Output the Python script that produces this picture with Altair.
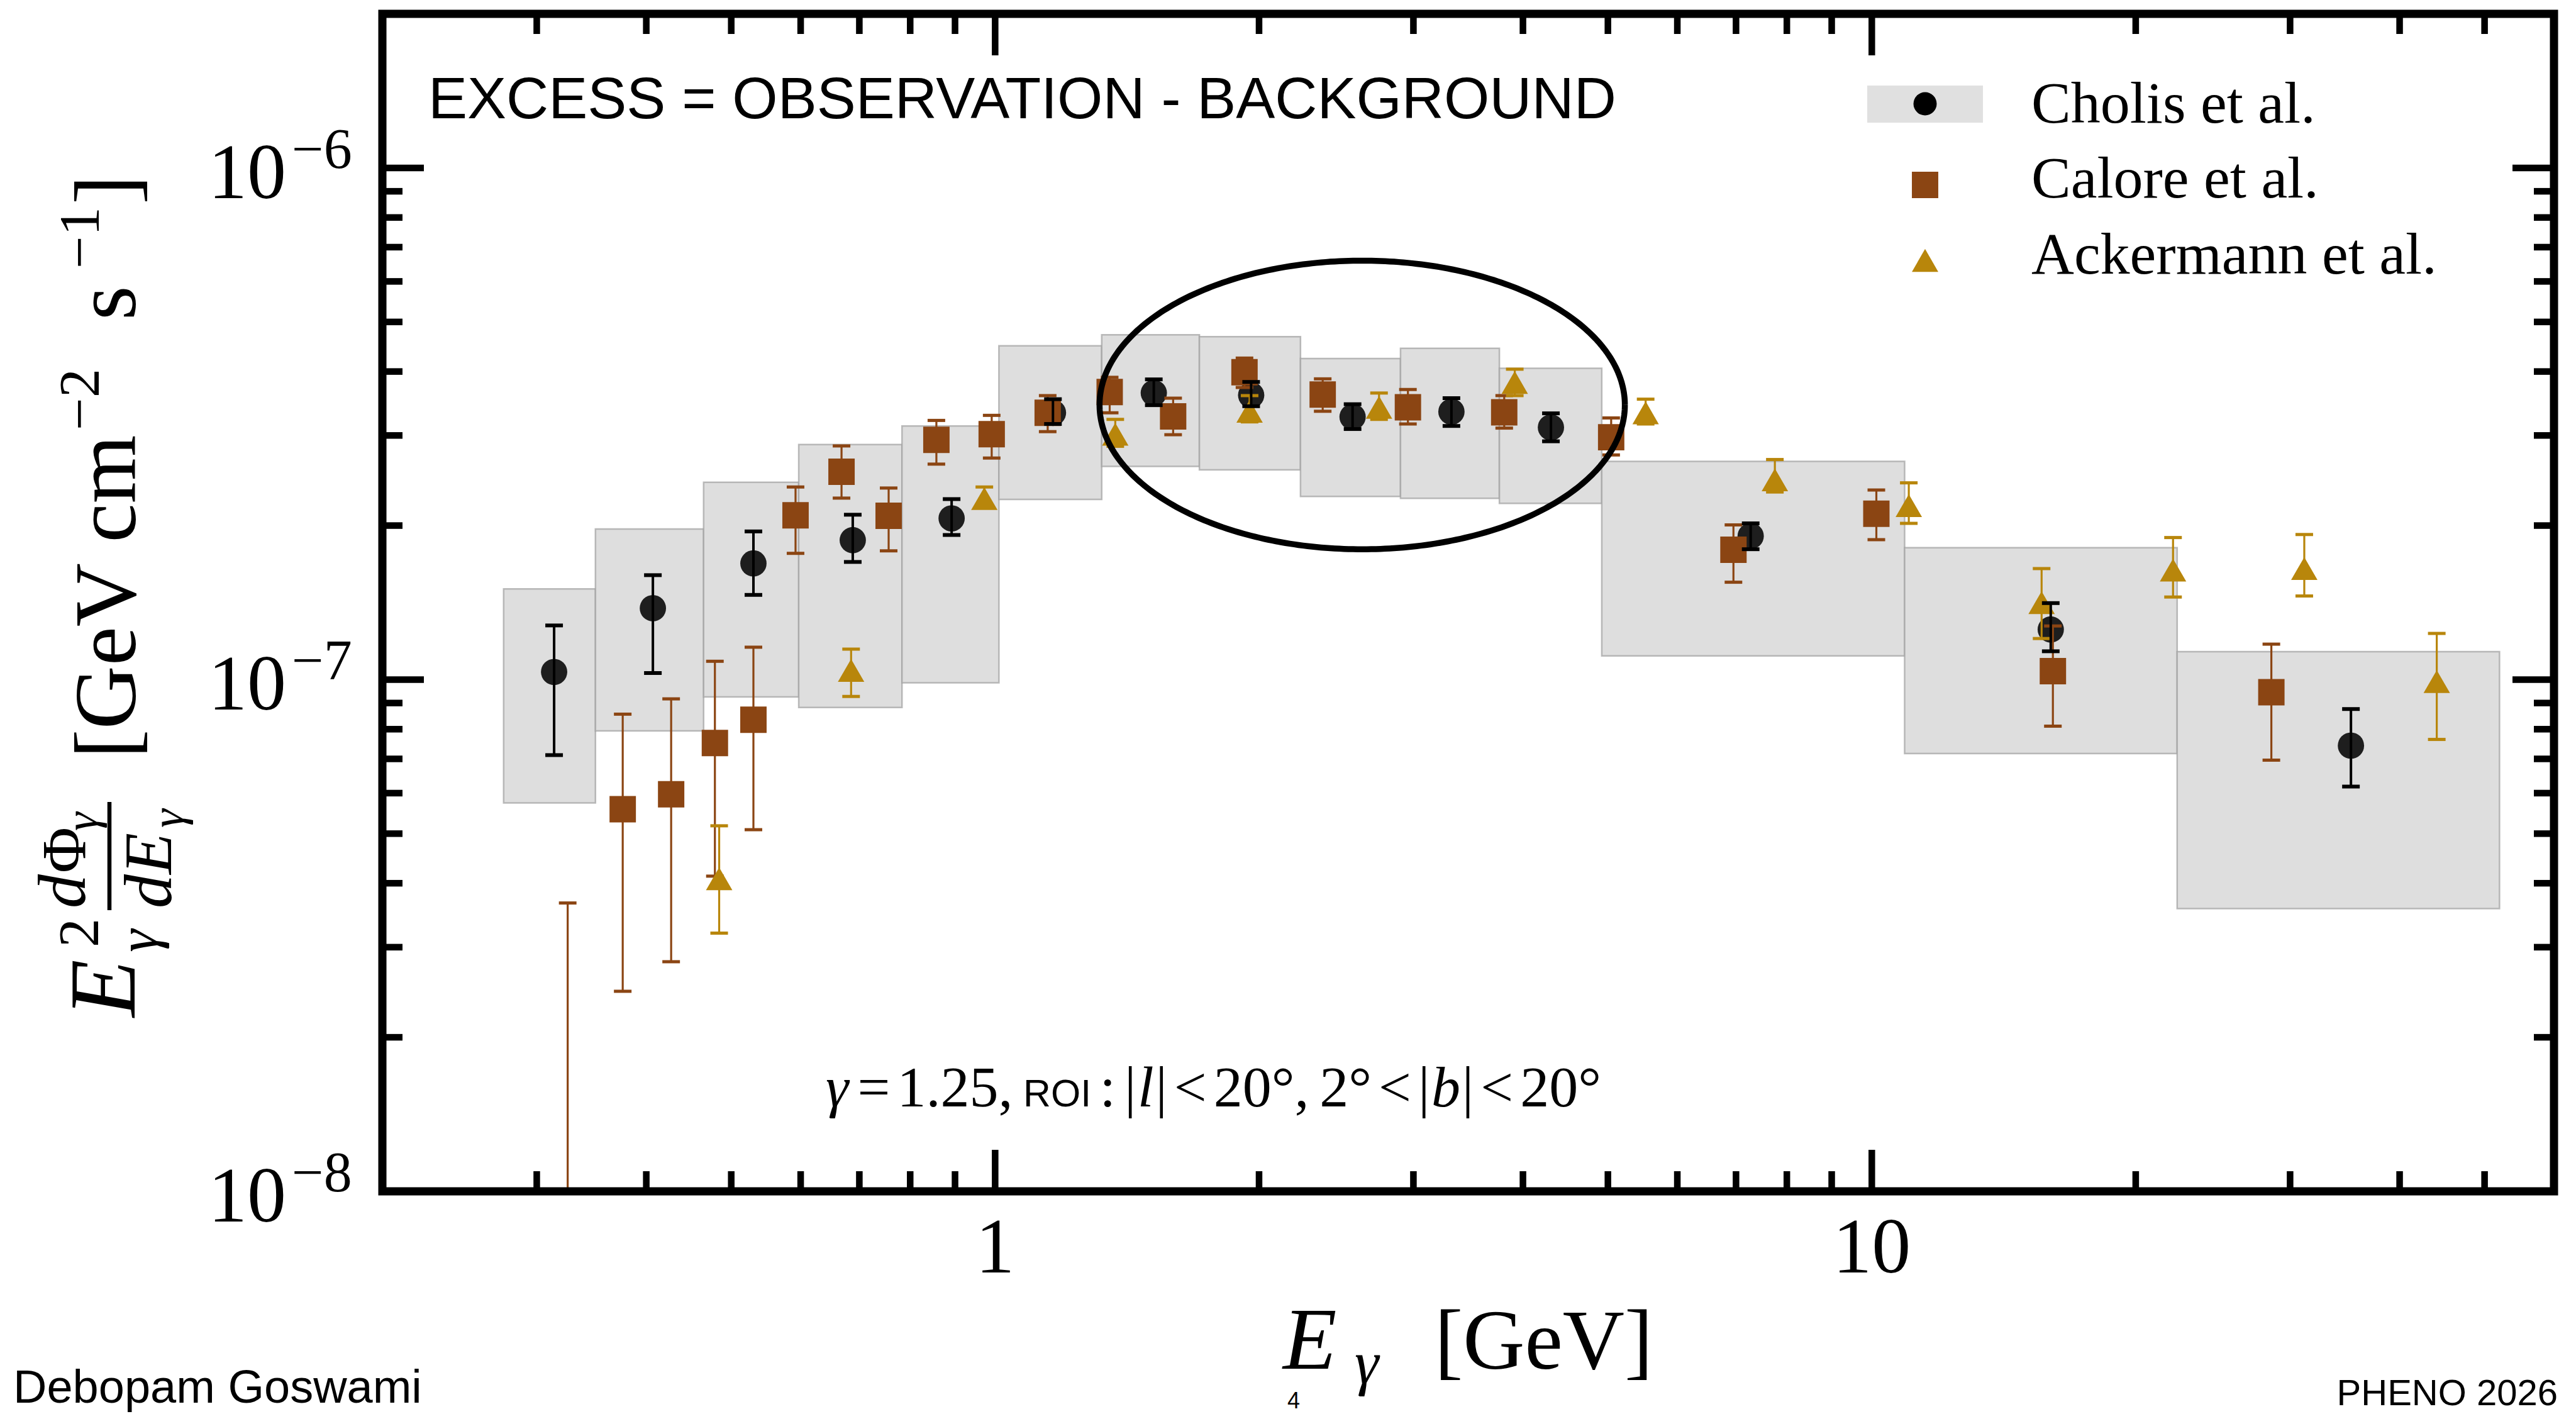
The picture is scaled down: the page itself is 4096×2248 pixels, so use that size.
import numpy as np
import pandas as pd
import altair as alt

# ---------------------------------------------------------------------------
# Cholis et al.: energy bins with systematic band, central values and errors
# (energies in GeV, fluxes E^2 dPhi/dE in GeV cm^-2 s^-1)
# ---------------------------------------------------------------------------
cholis_bin_lo = [0.275, 0.35, 0.465, 0.597, 0.783, 1.01, 1.323, 1.71, 2.23, 2.90, 3.76, 4.92, 10.9, 22.3]
cholis_bin_hi = [0.35, 0.465, 0.597, 0.783, 1.01, 1.323, 1.71, 2.23, 2.90, 3.76, 4.92, 10.9, 22.3, 52.0]
cholis_band_lo = [5.74e-8, 7.94e-8, 9.25e-8, 8.82e-8, 9.86e-8, 2.25e-7, 2.61e-7, 2.57e-7,
                  2.28e-7, 2.26e-7, 2.21e-7, 1.113e-7, 7.17e-8, 3.57e-8]
cholis_band_hi = [1.504e-7, 1.97e-7, 2.43e-7, 2.88e-7, 3.13e-7, 4.49e-7, 4.72e-7, 4.68e-7,
                  4.24e-7, 4.44e-7, 4.06e-7, 2.67e-7, 1.81e-7, 1.134e-7]
cholis_E = [0.314, 0.407, 0.530, 0.688, 0.892, 1.164, 1.517, 1.959, 2.557, 3.315, 4.305, 7.275, 16.0, 35.2]
cholis_F = [1.035e-7, 1.379e-7, 1.687e-7, 1.873e-7, 2.066e-7, 3.322e-7, 3.631e-7, 3.597e-7,
            3.262e-7, 3.338e-7, 3.11e-7, 1.908e-7, 1.253e-7, 7.43e-8]
cholis_lo = [7.12e-8, 1.030e-7, 1.464e-7, 1.698e-7, 1.917e-7, 3.159e-7, 3.438e-7, 3.422e-7,
             3.088e-7, 3.131e-7, 2.922e-7, 1.798e-7, 1.136e-7, 6.18e-8]
cholis_hi = [1.276e-7, 1.600e-7, 1.948e-7, 2.10e-7, 2.253e-7, 3.532e-7, 3.861e-7, 3.817e-7,
             3.453e-7, 3.548e-7, 3.314e-7, 2.02e-7, 1.411e-7, 8.76e-8]

# Calore et al. (first point lies below the plotted range)
calore_E = [0.3254, 0.376, 0.427, 0.479, 0.530, 0.592, 0.668, 0.756, 0.857, 0.991, 1.148,
            1.351, 1.596, 1.925, 2.364, 2.957, 3.808, 5.043, 6.953, 10.12, 16.09, 28.56]
calore_F = [5.0e-9, 5.58e-8, 5.97e-8, 7.52e-8, 8.35e-8, 2.095e-7, 2.548e-7, 2.09e-7, 2.942e-7,
            3.017e-7, 3.322e-7, 3.648e-7, 3.269e-7, 3.987e-7, 3.606e-7, 3.405e-7, 3.33e-7,
            2.976e-7, 1.794e-7, 2.109e-7, 1.039e-7, 9.45e-8]
calore_lo = [1.0e-9, 2.46e-8, 2.81e-8, 4.13e-8, 5.09e-8, 1.765e-7, 2.263e-7, 1.785e-7, 2.637e-7,
             2.71e-7, 3.052e-7, 3.322e-7, 3.01e-7, 3.723e-7, 3.345e-7, 3.159e-7, 3.101e-7,
             2.748e-7, 1.55e-7, 1.877e-7, 8.11e-8, 6.96e-8]
calore_hi = [3.66e-8, 8.56e-8, 9.17e-8, 1.086e-7, 1.157e-7, 2.379e-7, 2.862e-7, 2.368e-7, 3.21e-7,
             3.284e-7, 3.589e-7, 3.897e-7, 3.548e-7, 4.249e-7, 3.87e-7, 3.689e-7, 3.589e-7,
             3.246e-7, 2.006e-7, 2.347e-7, 1.273e-7, 1.173e-7]

# Ackermann et al.
ackermann_E = [0.4844, 0.685, 0.972, 1.371, 1.951, 2.741, 3.915, 5.521, 7.752, 11.02, 15.62,
               22.06, 31.14, 44.1]
ackermann_F = [4.08e-8, 1.042e-7, 2.258e-7, 3.017e-7, 3.345e-7, 3.405e-7, 3.808e-7, 3.322e-7,
               2.457e-7, 2.188e-7, 1.414e-7, 1.637e-7, 1.648e-7, 9.91e-8]
ackermann_lo = [3.196e-8, 9.27e-8, 2.168e-7, 2.857e-7, 3.189e-7, 3.225e-7, 3.589e-7, 3.159e-7,
                2.326e-7, 2.02e-7, 1.203e-7, 1.45e-7, 1.457e-7, 7.64e-8]
ackermann_hi = [5.18e-8, 1.147e-7, 2.379e-7, 3.225e-7, 3.589e-7, 3.631e-7, 4.042e-7, 3.532e-7,
                2.692e-7, 2.424e-7, 1.648e-7, 1.895e-7, 1.921e-7, 1.231e-7]

# Highlight ellipse around the peak (centre and half-axes in decades)
ELL_LOG_E, ELL_LOG_F = 0.4187, -6.4633
ELL_DEC_E, ELL_DEC_F = 0.2996, 0.2820

# Axis ticks and labels
x_major = [1, 10]
x_minor = [0.3, 0.4, 0.5, 0.6, 0.7, 0.8, 0.9, 2, 3, 4, 5, 6, 7, 8, 9, 20, 30, 40, 50]
x_labels = ["1", "10"]
y_major = [1e-8, 1e-7, 1e-6]
y_minor = [k * 1e-8 for k in range(2, 10)] + [k * 1e-7 for k in range(2, 10)]
y_exp = ["\u22128", "\u22127", "\u22126"]

legend_names = ["Cholis et al.", "Calore et al.", "Ackermann et al."]

# Colours
C_CHOLIS = "#1e1e1e"
C_CALORE = "#8b4513"
C_ACKER = "#b8860b"
C_BAND = "#dedede"

# ---------------------------------------------------------------------------
W, H = 3453, 1872
SERIF = "Liberation Serif"
SANS = "Liberation Sans"

xsc = alt.Scale(type="log", domain=[0.2, 60], nice=False)
ysc = alt.Scale(type="log", domain=[1e-8, 2e-6], nice=False)


def ex(field):
    return alt.X(f"{field}:Q", scale=xsc, axis=None)


def ey(field):
    return alt.Y(f"{field}:Q", scale=ysc, axis=None)


ONE = alt.Data(values=[{"a": 1}])


def txt(text, x, y, size, font=SERIF, style="normal", angle=0, align="left",
        baseline="alphabetic", weight="normal"):
    return alt.Chart(ONE).mark_text(
        text=text, font=font, fontSize=size, fontStyle=style, fontWeight=weight,
        angle=angle, align=align, baseline=baseline, color="black"
    ).encode(x=alt.value(x), y=alt.value(y))


def series(E, F, lo, hi):
    return pd.DataFrame({"E": E, "F": F, "lo": lo, "hi": hi})


def errbars(df, color, lw, capw, capt):
    bar = alt.Chart(df).mark_rule(color=color, strokeWidth=lw, clip=True).encode(
        x=ex("E"), y=ey("lo"), y2="hi")
    caps = []
    for f in ("lo", "hi"):
        caps.append(alt.Chart(df).mark_tick(
            color=color, orient="horizontal", size=capw, thickness=capt,
            opacity=1, clip=True).encode(x=ex("E"), y=ey(f)))
    return [bar] + caps


def markers(df, shape, color, size):
    return alt.Chart(df).mark_point(
        shape=shape, filled=True, color=color, size=size, opacity=1,
        strokeWidth=0, clip=True).encode(x=ex("E"), y=ey("F"))


cholis = series(cholis_E, cholis_F, cholis_lo, cholis_hi)
calore = series(calore_E, calore_F, calore_lo, calore_hi)
acker = series(ackermann_E, ackermann_F, ackermann_lo, ackermann_hi)

bands = pd.DataFrame({"E_lo": cholis_bin_lo, "E_hi": cholis_bin_hi,
                      "F_lo": cholis_band_lo, "F_hi": cholis_band_hi})

layers = []

# systematic bands
layers.append(alt.Chart(bands).mark_rect(
    fill=C_BAND, stroke="#a0a0a0", strokeOpacity=0.7, strokeWidth=2.5, clip=True
).encode(x=ex("E_lo"), x2="E_hi", y=ey("F_lo"), y2="F_hi"))

# data points
layers.append(markers(cholis, "circle", C_CHOLIS, 1750))
layers += errbars(calore, C_CALORE, 3.2, 28, 5)
layers.append(markers(calore, "square", C_CALORE, 1760))
layers += errbars(acker, C_ACKER, 3.2, 28, 5)
layers.append(markers(acker, "triangle-up", C_ACKER, 1760))
layers += errbars(cholis, "black", 4, 28, 6)

# highlight ellipse
t = np.linspace(0, 2 * np.pi, 361)
ell = pd.DataFrame({
    "E": 10 ** (ELL_LOG_E + ELL_DEC_E * np.cos(t)),
    "F": 10 ** (ELL_LOG_F + ELL_DEC_F * np.sin(t)),
    "k": np.arange(len(t)),
})
layers.append(alt.Chart(ell).mark_line(color="black", strokeWidth=9.5).encode(
    x=ex("E"), y=ey("F"), order="k:Q"))

# inward ticks on all four sides
TW = 10.5
for vals, L in ((x_major, 66), (x_minor, 32)):
    d = pd.DataFrame({"E": vals})
    layers.append(alt.Chart(d).mark_rule(color="black", strokeWidth=TW).encode(
        x=ex("E"), y=alt.value(H), y2=alt.value(H - L)))
    layers.append(alt.Chart(d).mark_rule(color="black", strokeWidth=TW).encode(
        x=ex("E"), y=alt.value(0), y2=alt.value(L)))
for vals, L in ((y_major, 66), (y_minor, 32)):
    d = pd.DataFrame({"F": vals})
    layers.append(alt.Chart(d).mark_rule(color="black", strokeWidth=TW).encode(
        y=ey("F"), x=alt.value(0), x2=alt.value(L)))
    layers.append(alt.Chart(d).mark_rule(color="black", strokeWidth=TW).encode(
        y=ey("F"), x=alt.value(W), x2=alt.value(W - L)))

# frame
layers.append(alt.Chart(ONE).mark_rect(
    fillOpacity=0, stroke="black", strokeWidth=13
).encode(x=alt.value(0), x2=alt.value(W), y=alt.value(0), y2=alt.value(H)))

# tick labels
xl = pd.DataFrame({"E": x_major, "lab": x_labels})
layers.append(alt.Chart(xl).mark_text(
    font=SERIF, fontSize=124, align="center", baseline="alphabetic", color="black"
).encode(x=ex("E"), y=alt.value(2001), text="lab:N"))

yl = pd.DataFrame({"F": y_major, "exp": y_exp})
layers.append(alt.Chart(yl).mark_text(
    font=SERIF, fontSize=124, align="right", baseline="alphabetic", color="black", dy=48
).encode(y=ey("F"), x=alt.value(-153), text=alt.value("10")))
layers.append(alt.Chart(yl).mark_text(
    font=SERIF, fontSize=90, align="left", baseline="alphabetic", color="black", dy=0
).encode(y=ey("F"), x=alt.value(-144), text="exp:N"))

# x-axis title
layers.append(txt("E", 1432, 2154, 140, style="italic"))
layers.append(txt("\u03b3", 1546, 2177, 97, style="italic"))
layers.append(txt("[GeV]", 1673, 2154, 136))

# y-axis title (rotated, read bottom to top)
R = 270
layers.append(txt("E", -394, 1595, 150, style="italic", angle=R))
layers.append(txt("2", -452, 1484, 92, angle=R))
layers.append(txt("\u03b3", -358, 1492, 92, style="italic", angle=R))
layers.append(txt("d", -473, 1422, 108, style="italic", angle=R))
layers.append(txt("\u03a6", -473, 1366, 100, angle=R))
layers.append(txt("\u03b3", -454, 1299, 75, style="italic", angle=R))
layers.append(alt.Chart(ONE).mark_rule(color="black", strokeWidth=6.5).encode(
    x=alt.value(-434), y=alt.value(1253), y2=alt.value(1425)))
layers.append(txt("d", -336, 1422, 108, style="italic", angle=R))
layers.append(txt("E", -336, 1368, 108, style="italic", angle=R))
layers.append(txt("\u03b3", -317, 1294, 75, style="italic", angle=R))
layers.append(txt("[GeV cm", -393, 1184, 140, angle=R))
layers.append(txt("\u22122", -451, 662, 92, angle=R))
layers.append(txt("s", -393, 487, 140, angle=R))
layers.append(txt("\u22121", -451, 405, 92, angle=R))
layers.append(txt("]", -393, 303, 140, angle=R))

# in-plot annotations
layers.append(txt("EXCESS = OBSERVATION - BACKGROUND", 73, 166, 93, font=SANS))

# ROI line: pieces set one after another (advance width and gap in em)
RF = 92
roi_pieces = [
    ("\u03b3", "italic", SERIF, 1.0, 0.43, 0.12),
    ("=", "normal", SERIF, 1.0, 0.564, 0.12),
    ("1.25,", "normal", SERIF, 1.0, 2.0, 0.18),
    ("ROI", "normal", SANS, 0.66, 1.17, 0.15),
    (":", "normal", SERIF, 1.0, 0.278, 0.15),
    ("|", "normal", SERIF, 1.0, 0.2, 0.03),
    ("l", "italic", SERIF, 1.0, 0.278, 0.03),
    ("|", "normal", SERIF, 1.0, 0.2, 0.12),
    ("<", "normal", SERIF, 1.0, 0.564, 0.12),
    ("20\u00b0,", "normal", SERIF, 1.0, 1.65, 0.18),
    ("2\u00b0", "normal", SERIF, 1.0, 0.9, 0.12),
    ("<", "normal", SERIF, 1.0, 0.564, 0.12),
    ("|", "normal", SERIF, 1.0, 0.2, 0.03),
    ("b", "italic", SERIF, 1.0, 0.5, 0.03),
    ("|", "normal", SERIF, 1.0, 0.2, 0.12),
    ("<", "normal", SERIF, 1.0, 0.564, 0.12),
    ("20\u00b0", "normal", SERIF, 1.0, 1.4, 0.0),
]
cursor = 705
for s, st, fnt, rel, adv, gap in roi_pieces:
    layers.append(txt(s, cursor, 1737, RF * rel, font=fnt, style=st))
    cursor += (adv + gap) * RF

# legend
layers.append(alt.Chart(ONE).mark_rect(fill="#e0e0e0").encode(
    x=alt.value(2361), x2=alt.value(2545), y=alt.value(114), y2=alt.value(173)))
leg_y = [143, 272, 392]
leg_base = [173, 292, 413]
for (shape, col, sz), yy in zip((("circle", "black", 1369), ("square", C_CALORE, 1760),
                                 ("triangle-up", C_ACKER, 1760)), leg_y):
    layers.append(alt.Chart(ONE).mark_point(
        shape=shape, filled=True, color=col, size=sz, opacity=1, strokeWidth=0
    ).encode(x=alt.value(2453), y=alt.value(yy)))
for name, yb in zip(legend_names, leg_base):
    layers.append(txt(name, 2622, yb, 94))

# slide footer
layers.append(txt("Debopam Goswami", -587, 2208, 74, font=SANS))
layers.append(txt("4", 1449, 2217, 36, font=SANS, align="center"))
layers.append(txt("PHENO 2026", 3459, 2212, 58, font=SANS, align="right"))

chart = alt.layer(*layers).properties(
    width=W, height=H,
    padding={"left": 608, "top": 22, "right": 35, "bottom": 354},
    autosize=alt.AutoSizeParams(type="none"),
    background="white",
).configure_view(strokeWidth=0)

chart.save("out.html", embed_options={"renderer": "svg", "actions": False})
